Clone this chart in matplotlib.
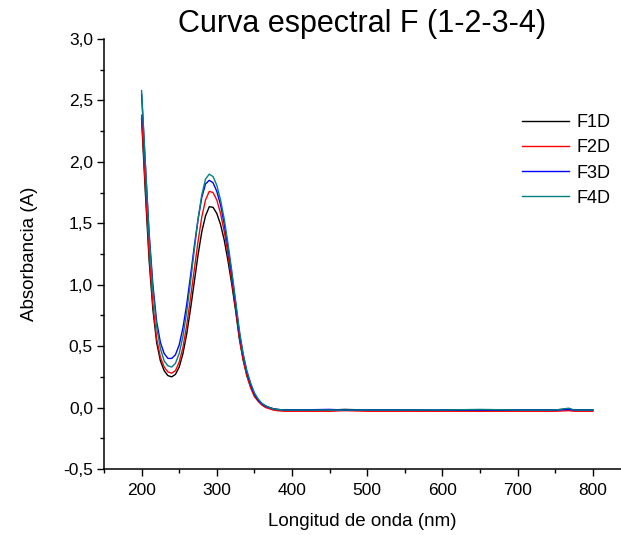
"""Curva espectral F (1-2-3-4): UV-Vis absorbance spectra of four samples."""
import matplotlib
matplotlib.use("Agg")
import matplotlib.pyplot as plt
from matplotlib.ticker import MultipleLocator, FuncFormatter

# wavelength grid (nm)
wl = [200, 205, 210, 215, 220, 225, 230, 235, 240, 245, 250, 255, 260, 265,
      270, 275, 280, 285, 290, 295, 300, 305, 310, 315, 320, 325, 330, 335,
      340, 345, 350, 355, 360, 365, 370, 375, 380, 390, 400, 450, 470, 500,
      550, 595, 600, 650, 700, 750, 768, 775, 800]

f1d = [2.35, 1.75, 1.20, 0.80, 0.53, 0.38, 0.30, 0.26, 0.25, 0.27, 0.33, 0.44,
       0.60, 0.80, 1.02, 1.24, 1.43, 1.56, 1.635, 1.63, 1.58, 1.49, 1.36, 1.19,
       1.00, 0.79, 0.56, 0.39, 0.26, 0.17, 0.10, 0.06, 0.03, 0.012, 0.0, -0.01,
       -0.015, -0.02, -0.02, -0.02, -0.015, -0.02, -0.02, -0.025, -0.02, -0.02,
       -0.02, -0.02, -0.01, -0.02, -0.02]
f2d = [2.38, 1.80, 1.25, 0.84, 0.56, 0.41, 0.33, 0.29, 0.28, 0.30, 0.37, 0.49,
       0.67, 0.89, 1.12, 1.35, 1.55, 1.69, 1.76, 1.75, 1.69, 1.58, 1.43, 1.24,
       1.03, 0.81, 0.57, 0.39, 0.26, 0.16, 0.09, 0.05, 0.02, 0.0, -0.01, -0.02,
       -0.025, -0.03, -0.03, -0.03, -0.025, -0.03, -0.03, -0.03, -0.03, -0.03,
       -0.03, -0.03, -0.025, -0.03, -0.03]
f3d = [2.55, 1.98, 1.42, 1.00, 0.70, 0.53, 0.44, 0.40, 0.40, 0.43, 0.51, 0.65,
       0.84, 1.07, 1.31, 1.53, 1.71, 1.82, 1.85, 1.83, 1.76, 1.65, 1.49, 1.30,
       1.08, 0.85, 0.61, 0.43, 0.29, 0.19, 0.11, 0.06, 0.03, 0.01, 0.0, -0.01,
       -0.015, -0.02, -0.02, -0.015, -0.02, -0.02, -0.02, -0.02, -0.02, -0.02,
       -0.02, -0.02, -0.015, -0.02, -0.02]
f4d = [2.58, 1.98, 1.40, 0.96, 0.66, 0.48, 0.38, 0.34, 0.33, 0.36, 0.44, 0.58,
       0.78, 1.02, 1.28, 1.53, 1.73, 1.86, 1.90, 1.88, 1.81, 1.69, 1.53, 1.33,
       1.11, 0.87, 0.63, 0.44, 0.30, 0.20, 0.12, 0.07, 0.035, 0.015, 0.0, -0.01,
       -0.015, -0.02, -0.02, -0.02, -0.02, -0.02, -0.02, -0.02, -0.02, -0.015,
       -0.02, -0.02, -0.005, -0.02, -0.02]

series = [("F1D", f1d), ("F2D", f2d), ("F3D", f3d), ("F4D", f4d)]
colors = ["#000000", "#ff0000", "#0000ff", "#008080"]

plt.rcParams.update({
    "font.family": ["Liberation Sans", "DejaVu Sans"],
    "axes.linewidth": 1.1,
})

fig = plt.figure(figsize=(6.21, 5.35), dpi=100)
ax = fig.add_axes([104 / 621, 66 / 535, 517 / 621, 430 / 535])

for (name, vals), c in zip(series, colors):
    ax.plot(wl, vals, color=c, linewidth=1.0, label=name)

ax.set_xlim(150, 837.5)
ax.set_ylim(-0.5, 3.0)
ax.xaxis.set_major_locator(MultipleLocator(100))
ax.xaxis.set_minor_locator(MultipleLocator(50))
ax.yaxis.set_major_locator(MultipleLocator(0.5))
ax.yaxis.set_minor_locator(MultipleLocator(0.25))
ax.yaxis.set_major_formatter(FuncFormatter(lambda v, p: f"{v:.1f}".replace(".", ",")))
ax.tick_params(which="major", direction="out", length=5, width=1.0,
               labelsize=12.5, pad=3)
ax.tick_params(axis="x", which="major", pad=5)
ax.tick_params(which="minor", direction="out", length=3, width=1.0)

for sp in ["top", "right"]:
    ax.spines[sp].set_visible(False)

ax.set_xlabel("Longitud de onda (nm)", fontsize=13.5, labelpad=11)
ax.set_ylabel("Absorbancia (A)", fontsize=13.5, labelpad=18)
ax.set_title("Curva espectral F (1-2-3-4)", fontsize=22, pad=1)

ax.legend(loc="upper right", bbox_to_anchor=(1.0, 0.85), frameon=False,
          fontsize=13, handlelength=2.6, handletextpad=0.4, labelspacing=0.45,
          borderaxespad=0.2)

fig.savefig("out.png", dpi=100)
